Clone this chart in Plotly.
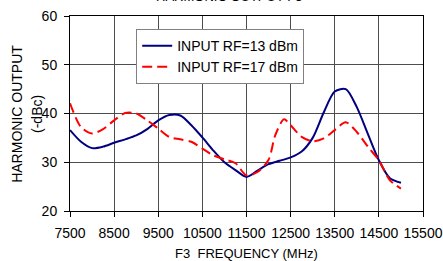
import plotly.graph_objects as go

freq_13 = [7500, 7750, 8000, 8250, 8500, 8750, 9000, 9250, 9500, 9750, 10000, 10250,
           10500, 10750, 11000, 11250, 11500, 11750, 12000, 12250, 12500, 12750, 13000,
           13250, 13500, 13750, 14000, 14250, 14500, 14750, 15000]
out_13 = [36.6, 34.2, 32.9, 33.2, 34.0, 34.7, 35.5, 36.8, 38.6, 39.7, 39.6, 37.6,
          35.1, 32.4, 30.0, 28.4, 27.0, 28.3, 29.6, 30.3, 31.0, 32.2, 35.0,
          40.2, 44.5, 45.0, 41.3, 35.8, 30.4, 26.7, 25.8]

freq_17 = [7500, 7750, 8000, 8250, 8500, 8750, 9000, 9250, 9500, 9750, 10000, 10250,
           10500, 10750, 11000, 11250, 11500, 11750, 12000, 12150, 12350, 12500, 12750,
           13000, 13250, 13500, 13750, 14000, 14250, 14500, 14750, 15000]
out_17 = [42.1, 37.2, 35.9, 36.8, 38.6, 40.1, 40.0, 38.6, 36.9, 35.2, 34.7, 34.2,
          32.8, 31.4, 30.6, 29.8, 27.3, 28.0, 30.5, 35.5, 38.8, 37.6, 35.2,
          34.3, 34.9, 36.6, 38.2, 36.2, 33.2, 30.4, 26.3, 24.6]

series_names = ["INPUT RF=13 dBm", "INPUT RF=17 dBm"]
x_ticks = [7500, 8500, 9500, 10500, 11500, 12500, 13500, 14500, 15500]
x_tick_labels = ["7500", "8500", "9500", "10500", "11500", "12500", "13500", "14500", "15500"]
y_ticks = [20, 30, 40, 50, 60]
y_tick_labels = ["20", "30", "40", "50", "60"]
y_title_lines = ["HARMONIC OUTPUT", "(-dBc)"]

FONT = "Liberation Sans, Arial, sans-serif"

fig = go.Figure()
fig.add_trace(go.Scatter(x=freq_13, y=out_13, mode="lines", name=series_names[0],
                         line=dict(color="#000080", width=2, shape="spline", smoothing=0.8)))
fig.add_trace(go.Scatter(x=freq_17, y=out_17, mode="lines", name=series_names[1],
                         line=dict(color="#ff0000", width=2, dash="10px,5px",
                                   shape="spline", smoothing=0.8)))

fig.update_layout(
    width=443, height=261,
    margin=dict(l=70, r=20, t=16, b=50, autoexpand=False),
    paper_bgcolor="white", plot_bgcolor="white",
    font=dict(family=FONT, size=14, color="black"),
    showlegend=True,
    legend=dict(x=0.1875, y=0.933, xanchor="left", yanchor="top",
                bgcolor="white", bordercolor="#808080", borderwidth=1,
                font=dict(size=14, family=FONT), tracegroupgap=0),
    annotations=[
        dict(text="HARMONIC OUTPUT F3", x=0.45, y=1.051, xref="paper", yref="paper",
             xanchor="center", yanchor="bottom", showarrow=False,
             font=dict(size=13, family=FONT)),
        dict(text=y_title_lines[0], x=-0.152, y=0.5, xref="paper", yref="paper",
             xanchor="center", yanchor="middle", textangle=-90, showarrow=False,
             font=dict(size=14, family=FONT)),
        dict(text=y_title_lines[1], x=-0.095, y=0.5, xref="paper", yref="paper",
             xanchor="center", yanchor="middle", textangle=-90, showarrow=False,
             font=dict(size=14, family=FONT)),
    ],
)
fig.update_xaxes(range=[7500, 15500], tickvals=x_ticks, ticktext=x_tick_labels,
                 ticks="outside", ticklen=5, ticklabelstandoff=4, automargin=False,
                 tickcolor="black", showgrid=True, gridcolor="#4d4d4d", gridwidth=1,
                 showline=True, linecolor="black", mirror=True, zeroline=False,
                 tickfont=dict(size=14),
                 title=dict(text="F3  FREQUENCY (MHz)", font=dict(size=13), standoff=11))
fig.update_yaxes(range=[20, 60], tickvals=y_ticks, ticktext=y_tick_labels,
                 ticks="outside", ticklen=5, ticklabelstandoff=4, automargin=False,
                 tickcolor="black", showgrid=True, gridcolor="#4d4d4d", gridwidth=1,
                 showline=True, linecolor="black", mirror=True, zeroline=False,
                 tickfont=dict(size=14))

fig.write_html("out.html", config={"displayModeBar": False},
               post_script="document.body.style.margin='0';document.body.style.overflow='hidden';")
